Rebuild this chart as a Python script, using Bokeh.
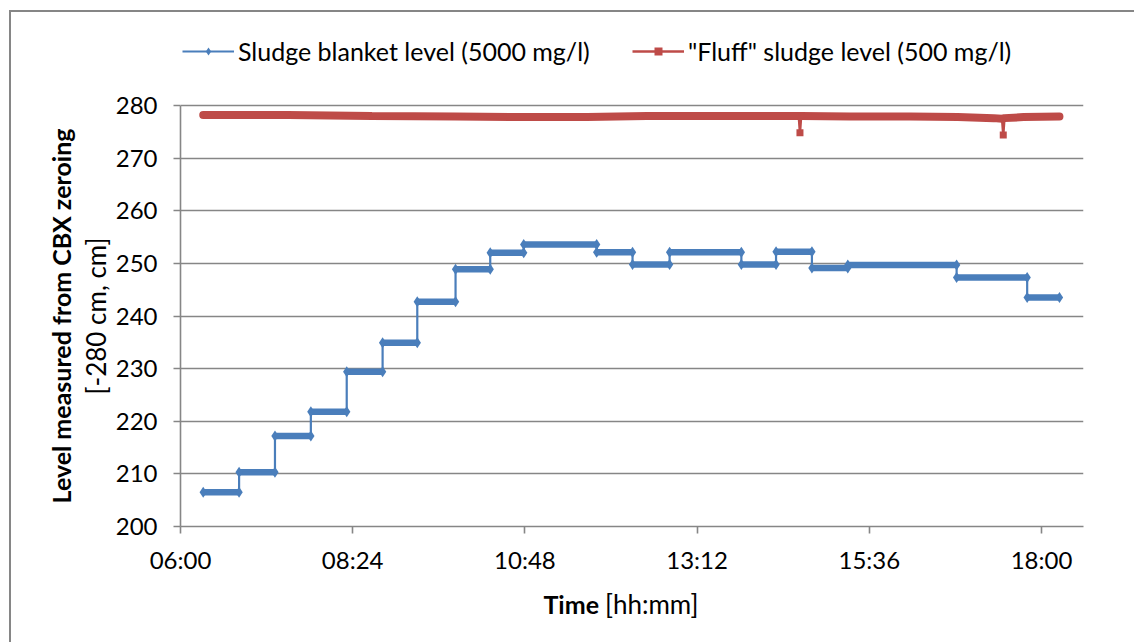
import math
from bokeh.plotting import figure
from bokeh.models import (FixedTicker, Legend, LegendItem, Label, Range1d)
from bokeh.embed import file_html
from bokeh.resources import INLINE

# ---------------- data ----------------
tick_labels = ["06:00", "08:24", "10:48", "13:12", "15:36", "18:00"]
y_ticks = [200, 210, 220, 230, 240, 250, 260, 270, 280]

blue_start = ["06:19", "06:49", "07:19", "07:49", "08:19", "08:49", "09:18",
              "09:50", "10:19", "10:47", "11:48", "12:18", "12:49", "13:49",
              "14:18", "14:48", "15:18", "16:49", "17:48"]
blue_last_end = "18:15"
blue_level = [206.5, 210.3, 217.2, 221.8, 229.4, 234.9, 242.7, 248.9, 252.0,
              253.6, 252.1, 249.8, 252.1, 249.8, 252.2, 249.1, 249.7, 247.3,
              243.5]

red_time = ["06:19", "07:30", "08:40", "09:50", "10:50", "11:40", "12:30",
            "13:20", "14:10", "14:37", "14:38", "14:39", "15:20", "16:10",
            "16:50", "17:20", "17:27", "17:28", "17:29", "17:45", "18:15"]
red_level = [278.2, 278.2, 278.0, 277.9, 277.8, 277.8, 278.0, 278.0, 278.0,
             278.0, 274.8, 278.0, 277.9, 277.9, 277.8, 277.6, 277.5, 274.4,
             277.6, 277.8, 277.9]

blue_name = "Sludge blanket level (5000 mg/l)"
red_name = "\"Fluff\" sludge level (500 mg/l)"
y_title_bold = "Level measured from CBX zeroing"
y_title_unit = "[-280 cm, cm]"
x_title_bold = "Time"
x_title_unit = "[hh:mm]"


def hm(s):
    h, m = s.split(":")
    return int(h) + int(m) / 60.0


BLUE = "#4A7EBB"
RED = "#BE4B48"
GRID = "#868686"
FONT = "Lato"

# ---------------- derived ----------------
b_x0 = [hm(t) for t in blue_start]
b_x1 = b_x0[1:] + [hm(blue_last_end)]
step_x, step_y = [], []
for a, b, v in zip(b_x0, b_x1, blue_level):
    step_x += [a, b]
    step_y += [v, v]

r_x = [hm(t) for t in red_time]
base_x = [x for x, v in zip(r_x, red_level) if v > 276]
base_y = [v for v in red_level if v > 276]
dip_x = [x for x, v in zip(r_x, red_level) if v <= 276]
dip_y = [v for v in red_level if v <= 276]

tick_pos = [hm(t) for t in tick_labels]

# layout: plot area 421px high for 200..280; frame extended upward to host the legend
Y0, Y1 = y_ticks[0], y_ticks[-1]
AREA_H = 421
FRAME_H = 496
y_top = Y0 + (Y1 - Y0) * FRAME_H / AREA_H
X0, X1 = 6.0, 18.585

p = figure(width=1123, height=630, output_backend="svg", toolbar_location=None,
           x_range=Range1d(X0, X1), y_range=Range1d(Y0, y_top),
           min_border_left=169, min_border_top=18, min_border_right=51,
           min_border_bottom=116)
p.frame_width = 903
p.frame_height = FRAME_H
p.margin = (10, 0, 0, 9)
p.outline_line_color = None
p.background_fill_color = "white"
p.border_fill_color = "white"
p.styles = {"border-top": "2px solid #868686", "border-left": "2px solid #868686"}

# grid
p.xgrid.visible = False
p.ygrid.grid_line_color = GRID
p.ygrid.grid_line_width = 1.6
p.ygrid.bounds = (Y0, Y1)
p.yaxis.ticker = FixedTicker(ticks=y_ticks)
p.yaxis.bounds = (Y0, Y1)
p.xaxis.ticker = FixedTicker(ticks=tick_pos)
p.xaxis.major_label_overrides = {pos: lab for pos, lab in zip(tick_pos, tick_labels)}

for ax in (p.xaxis[0], p.yaxis[0]):
    ax.axis_line_color = GRID
    ax.axis_line_width = 1.6
    ax.major_tick_line_color = GRID
    ax.major_tick_line_width = 1.6
    ax.major_tick_out = 7
    ax.major_tick_in = 0
    ax.minor_tick_line_color = None
    ax.major_label_text_font = FONT
    ax.major_label_text_font_size = "24px"
    ax.major_label_text_color = "black"

p.yaxis.major_label_standoff = 16
p.xaxis.major_label_standoff = 11

# y title in two lines (bold + normal), centred on the 200..280 plot area
ymid = (Y0 + Y1) / 2
p.add_layout(Label(x=X0, y=ymid, x_offset=-85, text=y_title_unit,
                   angle=math.pi / 2, text_font=FONT, text_font_size="26px",
                   text_align="center", text_baseline="middle",
                   text_color="black"), "left")
p.add_layout(Label(x=X0, y=ymid, x_offset=-120, text=y_title_bold,
                   angle=math.pi / 2, text_font=FONT, text_font_style="bold",
                   text_font_size="25px", text_align="center",
                   text_baseline="middle", text_color="black"), "left")

# x title in two parts (bold + normal), drawn just under the axis
xmid = (X0 + X1) / 2
ylab = Y0 - 77 * (Y1 - Y0) / AREA_H
p.add_layout(Label(x=xmid, y=ylab, x_offset=-33, text=x_title_bold,
                   text_font=FONT, text_font_style="bold", text_font_size="25px",
                   text_align="right", text_baseline="middle", text_color="black"),
             "below")
p.add_layout(Label(x=xmid, y=ylab, x_offset=-27, text=x_title_unit,
                   text_font=FONT, text_font_size="26px",
                   text_align="left", text_baseline="middle", text_color="black"),
             "below")

# blue series
p.segment(x0=b_x0, x1=b_x1, y0=blue_level, y1=blue_level, line_color=BLUE,
          line_width=6.5, line_cap="butt")
b_line = p.line(step_x, step_y, line_color=BLUE, line_width=2.2)
b_mark = p.scatter(step_x, step_y, marker="diamond", size=11, fill_color=BLUE,
                   line_color=None)

# red series
p.line(base_x, base_y, line_color=RED, line_width=8, line_cap="round")
r_line = p.line(r_x, red_level, line_color=RED, line_width=2.5)
r_mark = p.scatter(dip_x, dip_y, marker="square", size=7, fill_color=RED,
                   line_color=None)

legend = Legend(items=[LegendItem(label=blue_name, renderers=[b_line, b_mark]),
                       LegendItem(label=red_name, renderers=[r_line, r_mark])],
                orientation="horizontal", location=(2, 460),
                glyph_width=52, glyph_height=20, label_standoff=4, spacing=0,
                label_width=394,
                padding=0, margin=0, border_line_color=None,
                background_fill_alpha=0, label_text_font=FONT,
                label_text_font_size="25px", label_text_color="black")
p.add_layout(legend, "center")

open("out.html", "w").write(file_html(p, INLINE))
